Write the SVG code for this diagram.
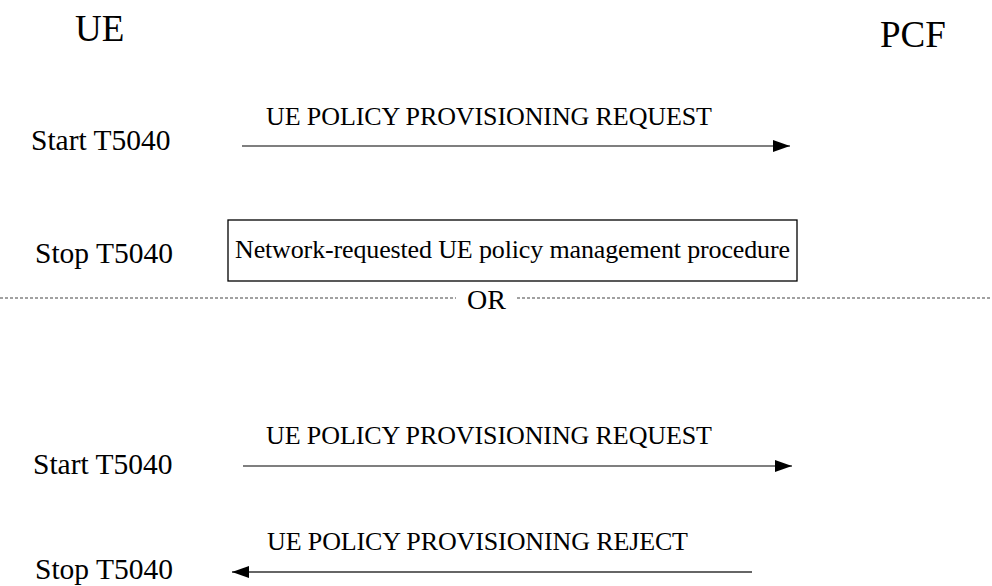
<svg xmlns="http://www.w3.org/2000/svg" width="992" height="586" viewBox="0 0 992 586">
<style>
text{font-family:"Liberation Serif","Times New Roman",serif;fill:#000}
.ent{font-size:37px}
.tm{font-size:29.5px}
.lbl{font-size:26px}
.box{fill:#fff;stroke:#000;stroke-width:1.3}
.msg{stroke:#000;stroke-width:1.2;fill:none}
.dash{stroke:#444;stroke-width:1;stroke-dasharray:3 2;fill:none}
</style>
<defs>
<marker id="ah" viewBox="0 0 17 12" refX="17" refY="6" markerWidth="17" markerHeight="12" markerUnits="userSpaceOnUse" orient="auto">
<path d="M0,0 L17,6 L0,12 Z" fill="#000"/>
</marker>
</defs>
<rect width="992" height="586" fill="#fff"/>
<g id="ue"><text class="ent" x="75" y="41">UE</text></g>
<g id="pcf"><text class="ent" x="880" y="47">PCF</text></g>
<g id="timers">
<text class="tm" x="31" y="150">Start T5040</text>
<text class="tm" x="35" y="263">Stop T5040</text>
<text class="tm" x="33" y="474">Start T5040</text>
<text class="tm" x="35" y="579">Stop T5040</text>
</g>
<g id="procedure">
<rect class="box" x="228" y="220" width="569" height="61"/>
<text class="lbl" x="235" y="258" textLength="555">Network-requested UE policy management procedure</text>
</g>
<g id="separator">
<line class="dash" x1="0" y1="298" x2="456" y2="298"/>
<text style="font-size:28px" x="467" y="309">OR</text>
<line class="dash" x1="517" y1="298" x2="992" y2="298"/>
</g>
<g id="connectors">
<line class="msg" x1="242" y1="146" x2="790" y2="146" marker-end="url(#ah)"/>
<text class="lbl" x="266" y="125" textLength="446">UE POLICY PROVISIONING REQUEST</text>
<line class="msg" x1="243" y1="466" x2="792" y2="466" marker-end="url(#ah)"/>
<text class="lbl" x="266" y="444" textLength="446">UE POLICY PROVISIONING REQUEST</text>
<line class="msg" x1="752" y1="572" x2="232" y2="572" style="stroke:#333;stroke-width:1.6" marker-end="url(#ah)"/>
<text class="lbl" x="267" y="550" textLength="421">UE POLICY PROVISIONING REJECT</text>
</g>
</svg>
